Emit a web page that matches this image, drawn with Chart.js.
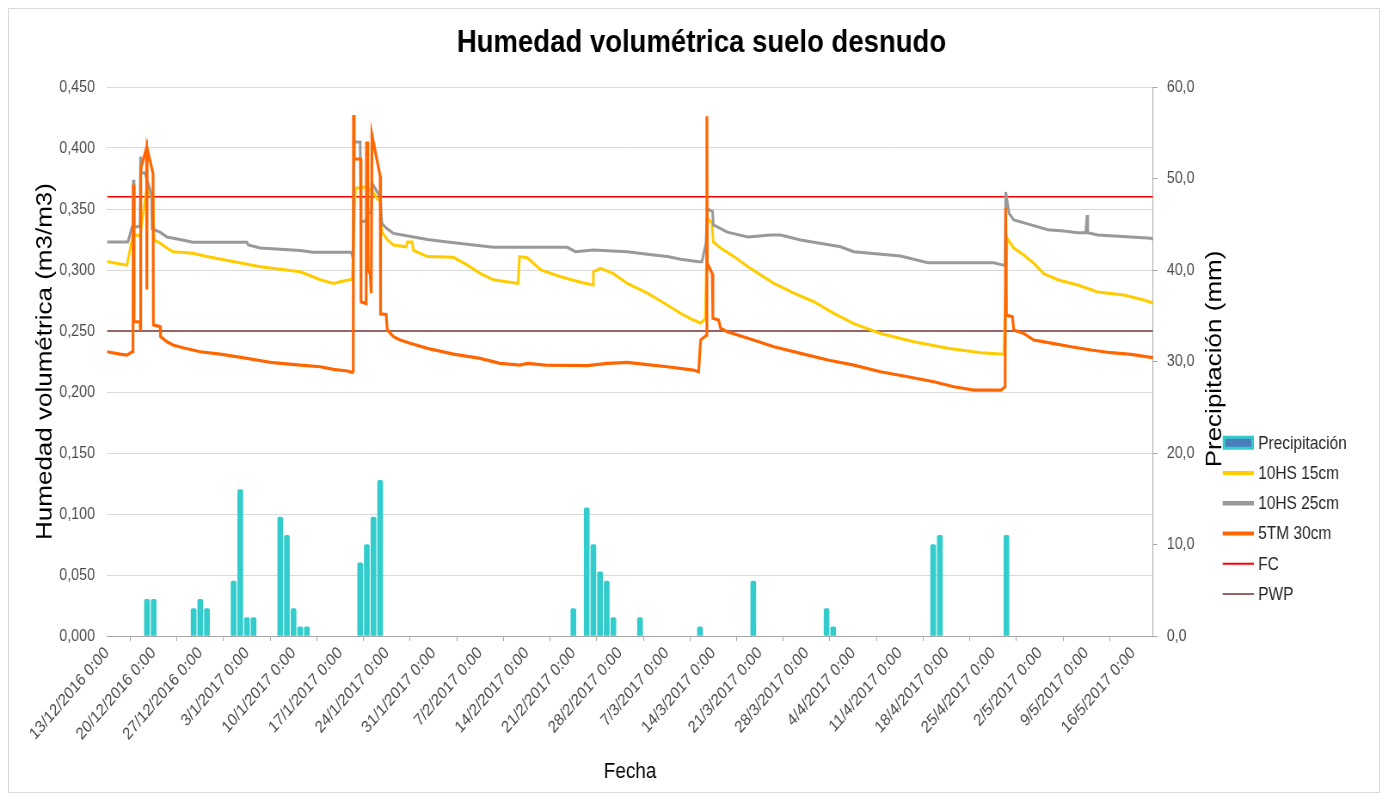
<!DOCTYPE html>
<html><head><meta charset="utf-8">
<script src="https://cdn.jsdelivr.net/npm/chart.js@4.4.1/dist/chart.umd.min.js"></script>
<style>
html,body{margin:0;padding:0;background:#fff;overflow:hidden;width:1387px;height:800px;}
#wrap{position:absolute;left:0;top:0;width:1613px;height:800px;transform:scaleX(0.86);transform-origin:0 0;}
#frame{position:absolute;left:8px;top:8px;width:1370px;height:783px;border:1px solid #d9d9d9;pointer-events:none;}
canvas{display:block;}
</style></head><body>
<div id="wrap"><canvas id="c" width="1613" height="800" style="width:1613px;height:800px"></canvas></div>
<div id="frame"></div>
<script>
const chartTitle = 'Humedad volumétrica suelo desnudo';
const leftAxisTitle = 'Humedad volumétrica (m3/m3)';
const rightAxisTitle = 'Precipitación (mm)';
const xAxisTitle = 'Fecha';

const xTickLabels = ['13/12/2016 0:00','20/12/2016 0:00','27/12/2016 0:00','3/1/2017 0:00','10/1/2017 0:00','17/1/2017 0:00','24/1/2017 0:00','31/1/2017 0:00','7/2/2017 0:00','14/2/2017 0:00','21/2/2017 0:00','28/2/2017 0:00','7/3/2017 0:00','14/3/2017 0:00','21/3/2017 0:00','28/3/2017 0:00','4/4/2017 0:00','11/4/2017 0:00','18/4/2017 0:00','25/4/2017 0:00','2/5/2017 0:00','9/5/2017 0:00','16/5/2017 0:00'];
const leftTickLabels = ['0,000','0,050','0,100','0,150','0,200','0,250','0,300','0,350','0,400','0,450'];
const rightTickLabels = ['0,0','10,0','20,0','30,0','40,0','50,0','60,0'];

// days since 13/12/2016 0:00
const precipDays = [6,7,13,14,15,19,20,21,22,26,27,28,29,30,38,39,40,41,70,72,73,74,75,76,80,89,97,108,109,124,125,135];
const precipMm   = [4,4,3,4,3,6,16,2,2,13,11,3,1,1,8,10,13,17,3,14,10,7,6,2,2,1,6,3,1,10,11,11];

const hs15Days = [0,1.95,3.0,3.9,4.96,6.0,6.46,6.9,7.06,7.96,9.0,9.9,12.9,15.0,18.9,23.0,29.0,30.9,32.0,34.0,35.0,36.8,37.3,38.8,39.8,40.6,41.0,41.27,42.1,43.0,44.9,45.1,45.8,46.0,48.1,52.0,54.1,56.0,58.0,61.7,61.9,63.1,65.1,68.1,71.1,72.9,73.0,74.1,76.0,78.1,81.1,84.1,86.1,88.0,89.1,89.8,90.1,90.8,91.0,92.1,94.1,96.2,98.1,100.1,103.1,106.1,109.1,112.1,116.1,121.1,126.2,131.2,134.6,135.1,136.1,137.6,139.1,140.6,142.7,145.7,148.7,152.6,155.6,157];
const hs15Vals = [0.307,0.305,0.304,0.329,0.328,0.368,0.3615,0.361,0.3246,0.322,0.318,0.315,0.3137,0.311,0.307,0.3027,0.2986,0.2945,0.292,0.289,0.2904,0.2924,0.367,0.368,0.365,0.358,0.357,0.331,0.3246,0.3205,0.319,0.323,0.323,0.316,0.311,0.3104,0.304,0.2973,0.292,0.289,0.311,0.310,0.300,0.2945,0.290,0.2877,0.2986,0.3014,0.297,0.289,0.281,0.2713,0.2645,0.259,0.2566,0.260,0.3426,0.3385,0.323,0.318,0.311,0.3027,0.296,0.289,0.281,0.274,0.2645,0.256,0.248,0.2412,0.2358,0.2322,0.231,0.326,0.318,0.3123,0.3055,0.297,0.292,0.2877,0.282,0.2795,0.2754,0.273];

const hs25Days = [0,3.15,3.76,3.9,3.95,4.06,4.96,5.03,5.18,5.7,6.7,6.76,7.96,9.0,10.97,12.9,21.0,21.2,23.0,29.0,30.9,36.7,36.8,36.96,37.1,38.0,38.1,38.9,39.06,39.66,39.8,41.0,41.27,42.0,43.0,46.0,48.1,51.1,58.0,69.1,70.3,73.0,78.1,81.1,84.1,86.1,88.8,89.3,89.9,90.1,90.9,91.0,93.1,96.2,99.6,101.1,104.1,110.1,112.1,119.1,123.2,133.1,134.5,134.8,134.9,135.4,136.1,138.7,141.2,143.6,145.7,146.9,147.1,147.2,148.7,153.7,156.7,157];
const hs25Vals = [0.323,0.323,0.3355,0.3355,0.374,0.3355,0.3355,0.393,0.3795,0.3795,0.3615,0.3336,0.331,0.327,0.325,0.3227,0.3227,0.3205,0.318,0.316,0.3145,0.3145,0.312,0.313,0.405,0.405,0.340,0.340,0.347,0.347,0.371,0.360,0.338,0.334,0.330,0.327,0.325,0.323,0.3186,0.3186,0.315,0.3164,0.315,0.313,0.311,0.3088,0.3068,0.3068,0.322,0.350,0.348,0.337,0.331,0.327,0.3287,0.3287,0.3246,0.319,0.315,0.3115,0.306,0.306,0.304,0.304,0.364,0.3464,0.341,0.337,0.333,0.332,0.3306,0.3306,0.345,0.3306,0.3287,0.327,0.326,0.325];

const tm30Days = [0,1.95,3.0,3.76,3.9,3.95,4.06,4.96,5.0,5.06,5.93,5.98,6.02,6.91,6.96,7.96,8.04,9.0,9.9,11.4,14.0,17.0,21.0,24.9,29.0,32.0,34.0,36.1,36.8,36.96,37.0,37.1,38.09,38.13,38.9,38.95,39.14,39.2,39.5,39.66,39.77,41.0,41.06,41.9,42.07,43.0,44.0,45.5,48.1,52.0,56.0,59.0,62.0,63.1,65.8,72.1,75.1,78.1,81.1,84.1,88.0,88.8,89.1,90.0,90.04,90.09,90.85,90.94,91.8,92.1,93.1,96.2,100.1,104.1,108.2,112.1,116.1,120.2,124.1,127.1,130.1,134.2,134.8,134.9,135.0,135.9,136.1,137.6,139.1,141.7,144.7,147.7,150.7,153.7,156.7,157];
const tm30Vals = [0.233,0.231,0.2303,0.233,0.233,0.370,0.2576,0.2576,0.2516,0.383,0.400,0.284,0.400,0.379,0.255,0.2536,0.2454,0.2412,0.2385,0.2363,0.233,0.2311,0.2276,0.224,0.222,0.2207,0.2186,0.2172,0.216,0.217,0.427,0.391,0.391,0.274,0.2725,0.404,0.404,0.300,0.297,0.281,0.411,0.377,0.264,0.2636,0.2508,0.2454,0.2426,0.240,0.2358,0.2311,0.2276,0.2235,0.222,0.2235,0.222,0.2216,0.2235,0.2243,0.2225,0.2207,0.218,0.2166,0.2426,0.2467,0.426,0.3055,0.297,0.2604,0.259,0.2522,0.2494,0.244,0.2371,0.2317,0.2262,0.222,0.2166,0.2125,0.2084,0.2043,0.2016,0.2016,0.2043,0.3506,0.263,0.2617,0.2508,0.248,0.2426,0.240,0.2371,0.2344,0.2322,0.2309,0.2284,0.228];

const refDays = [0,157];
const fcVals  = [0.36,0.36];
const pwpVals = [0.25,0.25];

const seriesNames = ['Precipitación','10HS 15cm','10HS 25cm','5TM 30cm','FC','PWP'];

function pts(days, vals){ const n = Math.min(days.length, vals.length); const out=[]; for(let i=0;i<n;i++) out.push({x:days[i], y:vals[i]}); return out; }

const FONT = '"Liberation Sans", Arial, sans-serif';
const TICK_COLOR = '#4a4a4a';

const legendStyles = [
  {type:'box', fill:'#4A7EBB', stroke:'#33CCCC'},
  {type:'line', color:'#FFCC00', width:4},
  {type:'line', color:'#999999', width:4.5},
  {type:'line', color:'#FF6600', width:4},
  {type:'line', color:'#FF0000', width:2},
  {type:'line', color:'#956464', width:2}
];

const overlay = {
  id:'overlay',
  afterDraw(chart){
    const ctx = chart.ctx;
    ctx.save();
    ctx.fillStyle = '#000';
    ctx.textAlign = 'center';
    ctx.textBaseline = 'middle';
    ctx.font = 'bold 32px ' + FONT;
    ctx.fillText(chartTitle, 815.7, 43);
    ctx.save();
    ctx.translate(1412.5, 359);
    ctx.rotate(-Math.PI/2);
    ctx.font = '26px ' + FONT;
    ctx.fillText(rightAxisTitle, 0, 0);
    ctx.restore();
    // legend
    const x0 = 1421.7, x1 = 1458, tx = 1463;
    const rows = [442.7, 472.9, 503.2, 533.5, 563.8, 594.1];
    ctx.font = '18px ' + FONT;
    ctx.textAlign = 'left';
    for (let i=0;i<seriesNames.length;i++){
      const s = legendStyles[i], y = rows[i];
      if (s.type === 'box'){
        ctx.fillStyle = s.fill; ctx.fillRect(x0+1.5, y-5.5, x1-x0-3, 11);
        ctx.strokeStyle = s.stroke; ctx.lineWidth = 3; ctx.strokeRect(x0+1.5, y-5.5, x1-x0-3, 11);
      } else {
        ctx.strokeStyle = s.color; ctx.lineWidth = s.width; ctx.lineCap='butt';
        ctx.beginPath(); ctx.moveTo(x0, y); ctx.lineTo(x1, y); ctx.stroke();
      }
      ctx.fillStyle = '#262626';
      ctx.fillText(seriesNames[i], tx, y+1);
    }
    ctx.restore();
  }
};

new Chart(document.getElementById('c'), {
  type:'bar',
  data:{
    datasets:[
      {type:'line', label:seriesNames[3], data:pts(tm30Days,tm30Vals), yAxisID:'y', borderColor:'#FF6600', borderWidth:3.2, pointRadius:0, tension:0, order:1},
      {type:'line', label:seriesNames[2], data:pts(hs25Days,hs25Vals), yAxisID:'y', borderColor:'#999999', borderWidth:3, pointRadius:0, tension:0, order:2},
      {type:'line', label:seriesNames[1], data:pts(hs15Days,hs15Vals), yAxisID:'y', borderColor:'#FFCC00', borderWidth:3, pointRadius:0, tension:0, order:3},
      {type:'line', label:seriesNames[4], data:pts(refDays,fcVals), yAxisID:'y', borderColor:'#FF0000', borderWidth:1.6, pointRadius:0, order:4},
      {type:'line', label:seriesNames[5], data:pts(refDays,pwpVals), yAxisID:'y', borderColor:'#956464', borderWidth:2, pointRadius:0, order:5},
      {type:'bar', label:seriesNames[0], data:pts(precipDays,precipMm), yAxisID:'y2', backgroundColor:'#33CCCC', borderWidth:0, barThickness:6, borderRadius:{topLeft:2,topRight:2}, order:6}
    ]
  },
  options:{
    responsive:false,
    animation:false,
    devicePixelRatio:1,
    layout:{padding:{top:87,left:0,right:0,bottom:0}},
    plugins:{legend:{display:false}, title:{display:false}, tooltip:{enabled:false}},
    scales:{
      x:{
        type:'linear', min:0, max:157, offset:false,
        afterFit(s){ s.height = 164; },
        afterBuildTicks(s){ s.ticks = xTickLabels.map((_,i)=>({value:i*7})); },
        ticks:{autoSkip:false, minRotation:45, maxRotation:45, padding:2, color:TICK_COLOR, font:{family:FONT, size:17},
          callback:(v,i)=>xTickLabels[i]},
        grid:{drawOnChartArea:false, drawTicks:true, tickLength:5, color:'#a6a6a6'},
        border:{display:true, color:'#a6a6a6', width:1},
        title:{display:true, text:xAxisTitle, color:'#000', font:{family:FONT, size:22}, padding:{top:0,bottom:15}}
      },
      y:{
        position:'left', min:0, max:0.45,
        afterFit(s){ s.width = 124.4; },
        afterBuildTicks(s){ s.ticks = leftTickLabels.map((_,i)=>({value:i*0.05})); },
        ticks:{padding:14, color:TICK_COLOR, font:{family:FONT, size:16.5}, callback:(v,i)=>leftTickLabels[i]},
        grid:{color:'#d9d9d9', lineWidth:1, drawTicks:false},
        border:{display:false},
        title:{display:true, text:leftAxisTitle, color:'#000', font:{family:FONT, size:26}, padding:{top:37,bottom:0}}
      },
      y2:{
        position:'right', min:0, max:60,
        afterFit(s){ s.width = 272.3; },
        afterBuildTicks(s){ s.ticks = rightTickLabels.map((_,i)=>({value:i*10})); },
        ticks:{padding:11, color:TICK_COLOR, font:{family:FONT, size:16.5}, callback:(v,i)=>rightTickLabels[i]},
        grid:{drawOnChartArea:false, drawTicks:true, tickLength:5, color:'#a6a6a6'},
        border:{display:true, color:'#a6a6a6', width:1}
      }
    }
  },
  plugins:[overlay]
});
</script></body></html>
